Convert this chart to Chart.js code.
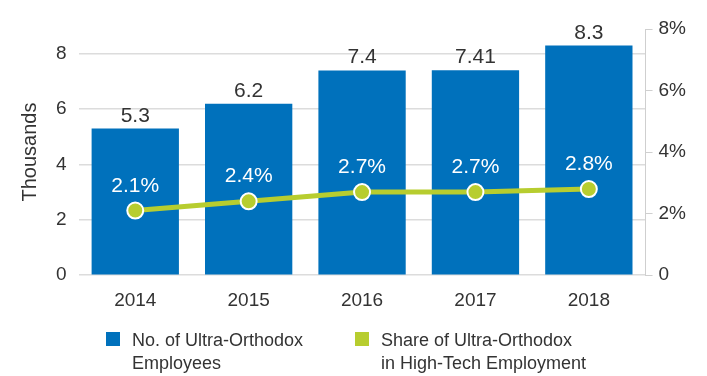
<!DOCTYPE html>
<html>
<head>
<meta charset="utf-8">
<script src="https://cdn.jsdelivr.net/npm/chart.js@4/dist/chart.umd.min.js"></script>
<style>
  html, body { margin: 0; padding: 0; background: #fff; }
  #wrap { position: relative; width: 707px; height: 376px; }
  #wrap canvas { position: absolute; left: 0; top: 0; }
  .key { position: absolute; top: 329px; font-family: "Liberation Sans", Arial, sans-serif;
         font-size: 18px; line-height: 23px; color: #333; padding-left: 26px; }
  .key i { position: absolute; left: 0; top: 3px; width: 14px; height: 14px; }
</style>
</head>
<body>
<div id="wrap">
  <canvas id="chart" width="707" height="376"></canvas>
  <div class="key" style="left:106px"><i style="background:#0071bc"></i>No. of Ultra-Orthodox<br>Employees</div>
  <div class="key" style="left:355px"><i style="background:#b7cd2f"></i>Share of Ultra-Orthodox<br>in High-Tech Employment</div>
</div>
<script>
const years = ['2014', '2015', '2016', '2017', '2018'];
const employees = [5.3, 6.2, 7.4, 7.41, 8.3];      // thousands
const share = [2.1, 2.4, 2.7, 2.7, 2.8];           // percent
const leftTicks = [0, 2, 4, 6, 8];
const rightTicks = [0, 2, 4, 6, 8];

const BLUE = '#0071bc';
const GREEN = '#b7cd2f';
const TEXT = '#333';
const FONT = '"Liberation Sans", Arial, sans-serif';

// value labels above bars and above line points
const valueLabels = {
  id: 'valueLabels',
  afterDatasetsDraw(chart) {
    const ctx = chart.ctx;
    ctx.save();
    ctx.textAlign = 'center';
    ctx.textBaseline = 'alphabetic';
    ctx.font = '21px ' + FONT;
    chart.getDatasetMeta(1).data.forEach((bar, i) => {
      ctx.fillStyle = TEXT;
      ctx.fillText(String(employees[i]), bar.x, bar.y - 7);
    });
    chart.getDatasetMeta(0).data.forEach((pt, i) => {
      ctx.fillStyle = '#fff';
      ctx.fillText(share[i].toFixed(1) + '%', pt.x, pt.y - 19);
    });
    ctx.restore();
  }
};

new Chart(document.getElementById('chart'), {
  data: {
    labels: years,
    datasets: [
      {
        type: 'line', label: 'Share of Ultra-Orthodox in High-Tech Employment', data: share, yAxisID: 'y1',
        borderColor: GREEN, borderWidth: 5, pointRadius: 8, pointBackgroundColor: GREEN,
        pointBorderColor: '#fff', pointBorderWidth: 2, order: 0
      },
      {
        type: 'bar', label: 'No. of Ultra-Orthodox Employees', data: employees, yAxisID: 'y',
        backgroundColor: BLUE, barPercentage: 0.77, categoryPercentage: 1, order: 1
      }
    ]
  },
  options: {
    responsive: false,
    animation: false,
    layout: { padding: { left: 16, right: 15, top: 29, bottom: 58 } },
    plugins: { legend: { display: false }, tooltip: { enabled: false } },
    scales: {
      x: {
        grid: { display: false },
        border: { display: false },
        ticks: { color: TEXT, font: { family: FONT, size: 19 }, padding: 6 }
      },
      y: {
        position: 'left', min: 0, max: 8.9,
        afterBuildTicks: axis => { axis.ticks = leftTicks.map(v => ({ value: v })); },
        grid: { color: '#dcdcdc', drawTicks: false, lineWidth: 1.5 },
        border: { display: false },
        ticks: { color: TEXT, font: { family: FONT, size: 19 }, padding: 12 },
        title: { display: true, text: 'Thousands', color: TEXT, font: { family: FONT, size: 20 }, padding: 2 }
      },
      y1: {
        position: 'right', min: 0, max: 8,
        afterBuildTicks: axis => { axis.ticks = rightTicks.map(v => ({ value: v })); },
        grid: { drawOnChartArea: false, color: '#cfcfcf', tickLength: 7 },
        border: { color: '#cfcfcf' },
        ticks: { color: TEXT, font: { family: FONT, size: 19 }, padding: 6,
                 callback: v => v === 0 ? '0' : v + '%' }
      }
    }
  },
  plugins: [valueLabels]
});
</script>
</body>
</html>
